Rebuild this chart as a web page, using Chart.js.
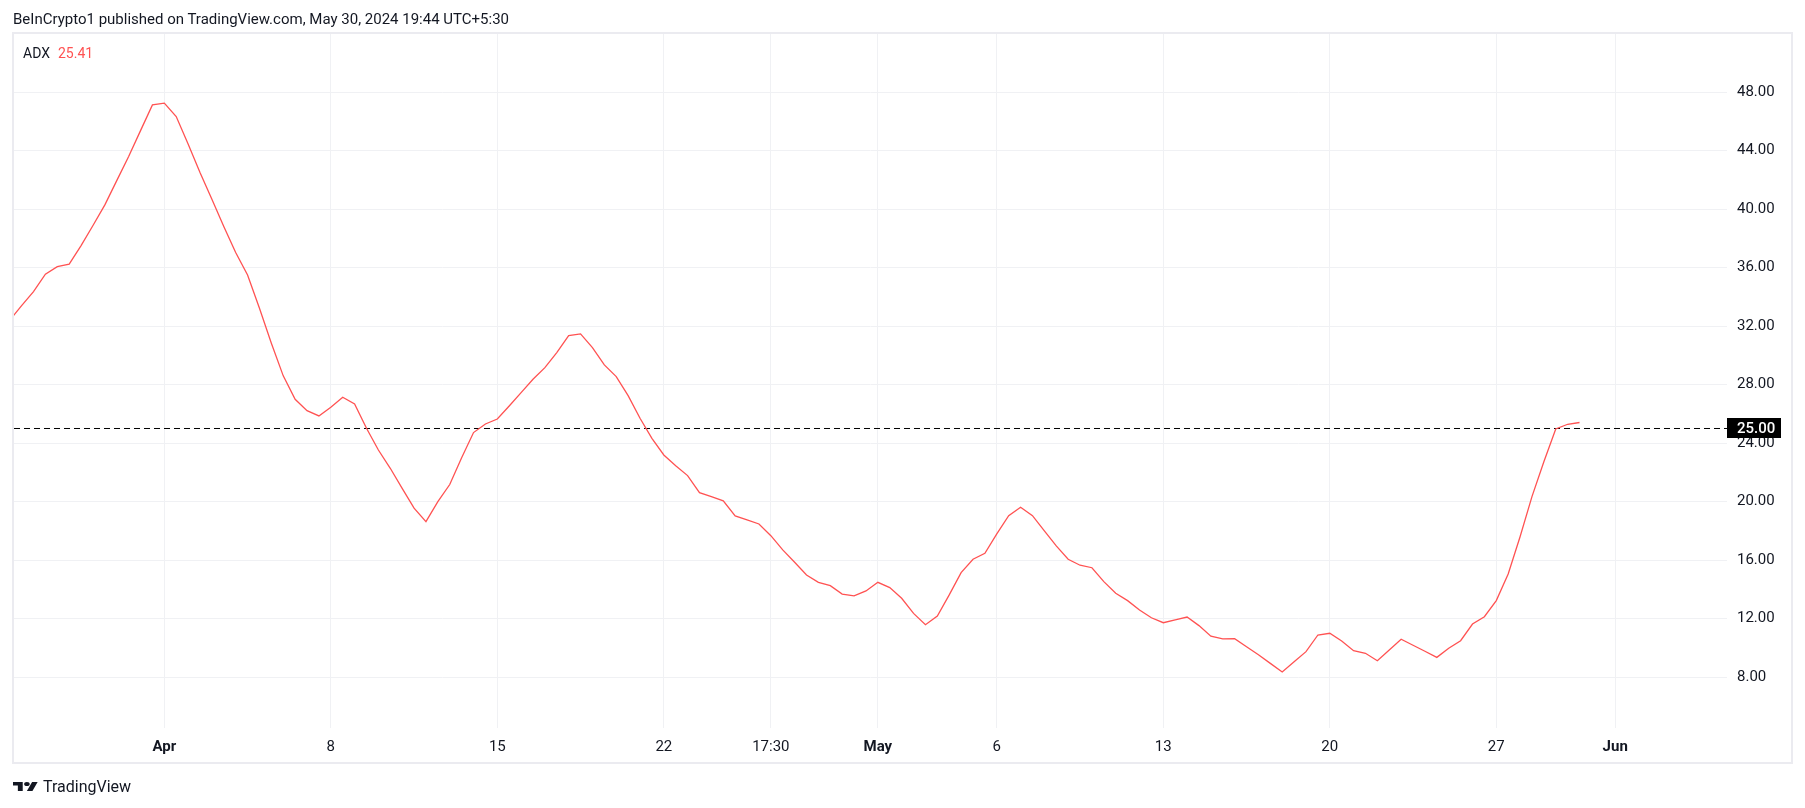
<!DOCTYPE html>
<html><head><meta charset="utf-8">
<script src="https://cdn.jsdelivr.net/npm/chart.js@4.4.1/dist/chart.umd.min.js"></script>
<style>
html,body{margin:0;padding:0;background:#fff;width:1805px;height:808px;overflow:hidden;font-family:Roboto, sans-serif;color:#131722}
#wrap{position:absolute;left:0;top:0;width:1805px;height:808px}
#frame{position:absolute;left:12px;top:32px;width:1781px;height:732px;box-sizing:border-box;border:2px solid #ebebf0;pointer-events:none}
#hdr{position:absolute;left:13px;top:12px;font-size:15px;line-height:15px;white-space:nowrap}
#legend{position:absolute;left:23px;top:46px;font-size:14px;line-height:14px;white-space:nowrap}
#legend .v{color:#ff5252;margin-left:8px}
#logo{position:absolute;left:13px;top:777px;height:18px;display:flex;align-items:center;white-space:nowrap;font-size:16px}
#logo svg{margin-right:5px}
</style></head>
<body>
<div id="wrap"><canvas id="c" width="1805" height="808"></canvas></div>
<div id="frame"></div>
<div id="hdr">BeInCrypto1 published on TradingView.com, May 30, 2024 19:44 UTC+5:30</div>
<div id="legend"><span>ADX</span><span class="v" id="lv"></span></div>
<div id="logo"><svg width="25" height="9" viewBox="0 4 36 18" preserveAspectRatio="none"><path fill="#131722" d="M14 22H7V11H0V4h14v18zM28 22h-8l7.5-18h8L28 22z"/><circle fill="#131722" cx="20" cy="8" r="4"/></svg><span>TradingView</span></div>
<script>
// ---- data (12h bars; index 0 = Apr 1) ----
const adxStartIndex = -13;
const adxValues = [
  32.4, 33.4, 34.36, 35.55, 36.07, 36.24, 37.51, 38.88, 40.29, 41.95, 43.6, 45.37, 47.13,
  47.25, 46.33, 44.46, 42.5, 40.68, 38.81, 37.03, 35.5, 33.22, 30.83, 28.6, 27.0, 26.22,
  25.86, 26.45, 27.14, 26.68, 25.02, 23.53, 22.28, 20.91, 19.55, 18.63, 20.0, 21.17, 23.0,
  24.72, 25.31, 25.65, 26.54, 27.45, 28.37, 29.16, 30.19, 31.35, 31.47, 30.53, 29.35, 28.55,
  27.25, 25.7, 24.33, 23.19, 22.46, 21.78, 20.61, 20.34, 20.05, 19.02, 18.75, 18.47, 17.67,
  16.7, 15.85, 14.98, 14.48, 14.25, 13.68, 13.55, 13.89, 14.48, 14.12, 13.39, 12.36, 11.58,
  12.18, 13.62, 15.14, 16.06, 16.47, 17.79, 19.04, 19.61, 19.04, 18.0, 16.97, 16.06, 15.65,
  15.48, 14.53, 13.73, 13.23, 12.59, 12.06, 11.72, 11.91, 12.11, 11.52, 10.8, 10.61, 10.63,
  10.08, 9.53, 8.94, 8.35, 9.05, 9.74, 10.88, 11.0, 10.47, 9.81, 9.63, 9.12, 9.85, 10.59,
  10.18, 9.77, 9.35, 9.97, 10.49, 11.63, 12.13, 13.23, 15.05, 17.6, 20.34, 22.73, 24.97,
  25.29, 25.41
];
const xTickPositions = [0, 14, 28, 42, 51, 60, 70, 84, 98, 112, 122];
const xTickLabels = ['Apr', '8', '15', '22', '17:30', 'May', '6', '13', '20', '27', 'Jun'];
const monthLabels = ['Apr', 'May', 'Jun'];
const yTickValues = [8, 12, 16, 20, 24, 28, 32, 36, 40, 44, 48];
const levelValue = 25;
const xRange = [-12.64, 131.4];
const yRange = [4.52, 51.976];

const lineColor = '#ff5252';
const gridColor = '#f0f1f4';
const textColor = '#131722';

document.getElementById('lv').textContent = adxValues[adxValues.length - 1].toFixed(2);

const levelTag = {
  id: 'levelTag',
  afterDraw(chart) {
    const { ctx, chartArea, scales: { y } } = chart;
    const py = Math.round(y.getPixelForValue(levelValue));
    ctx.save();
    ctx.fillStyle = '#000';
    ctx.fillRect(chartArea.right, py - 10, 54, 20);
    ctx.fillStyle = '#fff';
    ctx.font = '500 15px Roboto';
    ctx.textBaseline = 'middle';
    ctx.textAlign = 'left';
    ctx.fillText(levelValue.toFixed(2), chartArea.right + 10, py + 1);
    ctx.restore();
  }
};

function build() {
  new Chart(document.getElementById('c'), {
    type: 'line',
    data: {
      datasets: [
        {
          data: adxValues.map((v, i) => ({ x: adxStartIndex + i, y: v })),
          borderColor: lineColor, borderWidth: 1.3, pointRadius: 0, tension: 0, fill: false
        },
        {
          data: [{ x: xRange[0], y: levelValue }, { x: xRange[1], y: levelValue }],
          borderColor: '#000', borderWidth: 1, borderDash: [6, 4], pointRadius: 0, fill: false
        }
      ]
    },
    options: {
      responsive: false, animation: false,
      events: [],
      layout: { padding: { left: 14, top: 34, right: 14, bottom: 46 } },
      plugins: { legend: { display: false }, tooltip: { enabled: false } },
      scales: {
        x: {
          type: 'linear', min: xRange[0], max: xRange[1],
          afterBuildTicks: s => { s.ticks = xTickPositions.map(v => ({ value: v })); },
          afterFit: s => { s.height = 34; },
          ticks: {
            autoSkip: false, maxRotation: 0, padding: 10, color: textColor,
            callback: (v, i) => xTickLabels[i],
            font: ctx => ({ family: 'Roboto', size: 15, weight: monthLabels.includes(xTickLabels[ctx.index]) ? 'bold' : 'normal' })
          },
          grid: { color: gridColor, drawTicks: false },
          border: { display: false }
        },
        y: {
          type: 'linear', position: 'right', min: yRange[0], max: yRange[1],
          afterBuildTicks: s => { s.ticks = yTickValues.map(v => ({ value: v })); },
          afterFit: s => { s.width = 64; },
          ticks: {
            padding: 10, color: textColor,
            callback: v => Number(v).toFixed(2),
            font: { family: 'Roboto', size: 15 }
          },
          grid: { color: gridColor, drawTicks: false },
          border: { display: false }
        }
      }
    },
    plugins: [levelTag]
  });
}
Promise.all([document.fonts.load('15px Roboto'), document.fonts.load('bold 15px Roboto'), document.fonts.load('500 15px Roboto')]).then(build, build);
</script>
</body></html>
